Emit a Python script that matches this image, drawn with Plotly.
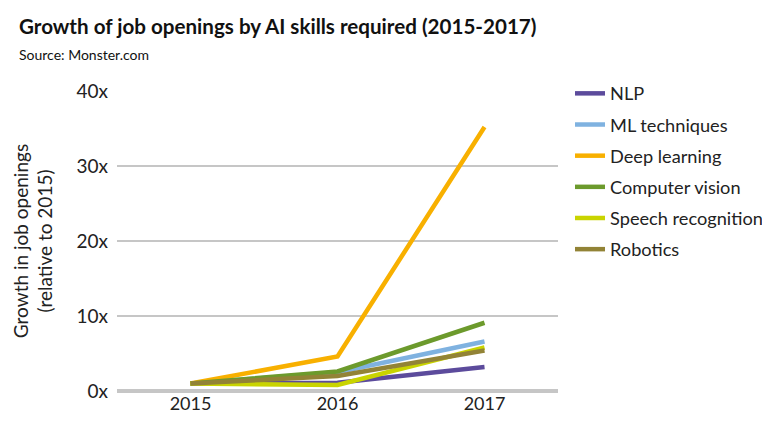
import plotly.graph_objects as go

years = ["2015", "2016", "2017"]
skills = ["NLP", "ML techniques", "Deep learning", "Computer vision",
          "Speech recognition", "Robotics"]
nlp = [1.0, 1.1, 3.2]
ml_techniques = [1.0, 2.5, 6.6]
deep_learning = [1.0, 4.6, 35.2]
computer_vision = [1.0, 2.6, 9.1]
speech_recognition = [1.0, 0.8, 5.8]
robotics = [1.0, 2.0, 5.4]

series = [nlp, ml_techniques, deep_learning, computer_vision,
          speech_recognition, robotics]
colors = ["#5c4b9c", "#7fb2e0", "#f8b000", "#6c9a2c", "#c9d400", "#928336"]

fig = go.Figure()
for name, vals, col in zip(skills, series, colors):
    fig.add_trace(go.Scatter(
        x=years, y=vals, name=name, mode="lines", legendgroup=name,
        line=dict(color=col, width=4.5),
    ))

# page body has an 8px margin, so margins are offset to compensate
fig.update_layout(
    width=770, height=431,
    paper_bgcolor="white", plot_bgcolor="white",
    font=dict(family="Lato", color="#222222", size=18),
    margin=dict(l=107, r=218, t=83, b=48),
    xaxis=dict(
        range=[-0.5, 2.5],
        showgrid=False, showline=False, zeroline=False,
        ticks="", tickfont=dict(size=18),
    ),
    yaxis=dict(
        range=[0, 40], dtick=10, ticksuffix="x",
        showgrid=True, gridcolor="#c6c6c6", gridwidth=2,
        zeroline=True, zerolinecolor="#c6c6c6", zerolinewidth=4,
        showline=False, ticks="", tickfont=dict(size=19),
        ticklabelstandoff=8,
        title=dict(text="Growth in job openings<br>(relative to 2015)",
                   font=dict(size=19), standoff=18),
    ),
    legend=dict(
        xref="container", yref="container",
        x=0.7299, xanchor="left", y=0.8445, yanchor="top",
        font=dict(size=18.2), tracegroupgap=4.5, itemwidth=30,
    ),
    annotations=[
        dict(text="<b>Growth of job openings by AI skills required (2015-2017)</b>",
             xref="paper", yref="paper", x=-0.227, y=1.2167,
             xanchor="left", yanchor="middle", showarrow=False,
             font=dict(size=20.6, color="#111111")),
        dict(text="Source: Monster.com",
             xref="paper", yref="paper", x=-0.227, y=1.1233,
             xanchor="left", yanchor="middle", showarrow=False,
             font=dict(size=14, color="#111111")),
    ],
)

fig.write_html("out.html")
